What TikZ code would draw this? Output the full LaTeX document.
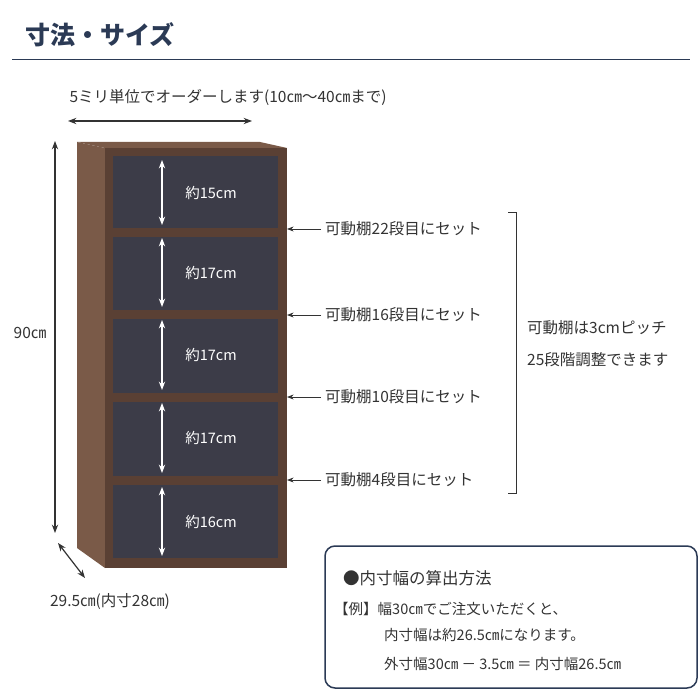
\documentclass[tikz,border=0pt]{standalone}
\usepackage{fontspec}
\setmainfont{Noto Sans CJK JP}
\usetikzlibrary{arrows.meta}
\definecolor{navy}{HTML}{2B3A55}
\definecolor{ink}{HTML}{333333}
\definecolor{wood}{HTML}{5A4034}
\definecolor{woodlight}{HTML}{7A5A48}
\definecolor{inner}{HTML}{3C3C48}
\begin{document}
\begin{tikzpicture}[x=1pt,y=-1pt,
		label/.style={
		% Font
		font=\fontsize{15.5}{17}\selectfont,
		text=ink,
		inner sep=0pt
		},
		inlabel/.style={
		font=\fontsize{14.5}{16}\selectfont,
		text=white,
		inner sep=0pt
		},
		dim/.style={Stealth-Stealth, line width=1.2pt, draw=ink},
		shelfarrow/.style={Stealth-Stealth, line width=1.2pt, draw=white},
		pointer/.style={-Stealth, line width=0.8pt, draw=ink}
	]
	\useasboundingbox (0,0) rectangle (700,700);
	\fill[white] (0,0) rectangle (700,700);

	% title
	\node (title)[anchor=west, text=navy, font=\fontsize{25}{27}\selectfont\bfseries] at (22,35) {寸法・サイズ};
	\draw[navy, line width=1pt] (12,60) -- (690,60);

	% width
	\node (order)[label] at (228,97) {5ミリ単位でオーダーします(10㎝～40㎝まで)};
	\coordinate (wl) at (68,121);
	\coordinate (wr) at (252,121);
	\draw[dim] (wl) -- (wr);

	% cabinet
	\fill[woodlight] (77,142) -- (260,142) -- (287,148) -- (105,148) -- cycle;
	\fill[woodlight] (77,142) -- (105,148) -- (105,568) -- (77,548) -- cycle;
	\fill[wood] (105,148) rectangle (287,568);
	\fill[inner] (113,156) rectangle (278,558);
	\foreach \y in {228,310,393,476} {
		\fill[wood] (113,\y) rectangle (278,\y+9);
	}

	% inner heights
	\foreach \a/\b/\t [count=\i] in {160/225/15,238/307/17,320/390/17,403/473/17,487/556/16} {
		\coordinate (top\i) at (162,\a);
		\coordinate (bot\i) at (162,\b);
		\draw[shelfarrow] (top\i) -- (bot\i);
		\node (h\i)[inlabel] at (211,{(\a+\b)/2}) {約\t cm};
	}

	% shelf settings
	\foreach \y/\n [count=\i] in {229/22,315/16,397/10,480/4} {
		\node (set\i)[label, anchor=west] at (325,\y) {可動棚\n 段目にセット};
		\coordinate (tip\i) at (287,\y);
		\draw[pointer] (set\i.west) ++(-4,0) -- (tip\i);
	}
	\draw[ink, line width=1pt] (508,213) -- (516,213) -- (516,493) -- (508,493);
	\node (pitch)[label, anchor=west] at (527,328) {可動棚は3cmピッチ};
	\node (steps)[label, anchor=west] at (527,360) {25段階調整できます};

	% height and depth
	\coordinate (ht) at (55,141);
	\coordinate (hb) at (55,533);
	\draw[dim] (ht) -- (hb);
	\node (height)[label] at (30,333) {90㎝};
	\coordinate (dt) at (58,543);
	\coordinate (db) at (85,578);
	\draw[dim] (dt) -- (db);
	\node (depth)[label] at (110,602) {29.5㎝(内寸28㎝)};

	% note box
	\draw[navy, line width=1.5pt, rounded corners=10pt] (325,546) rectangle (697,688);
	\node (note)[label, anchor=west, font=\fontsize{16.5}{18}\selectfont] at (343,578) {●内寸幅の算出方法};
	\node (ex1)[label, anchor=west, font=\fontsize{14.5}{16}\selectfont] at (334,609) {【例】幅30㎝でご注文いただくと、};
	\node (ex2)[label, anchor=west, font=\fontsize{14.5}{16}\selectfont] at (384,635) {内寸幅は約26.5㎝になります。};
	\node (ex3)[label, anchor=west, font=\fontsize{14.5}{16}\selectfont] at (384,664) {外寸幅30㎝ － 3.5㎝ ＝ 内寸幅26.5㎝};
\end{tikzpicture}
\end{document}
